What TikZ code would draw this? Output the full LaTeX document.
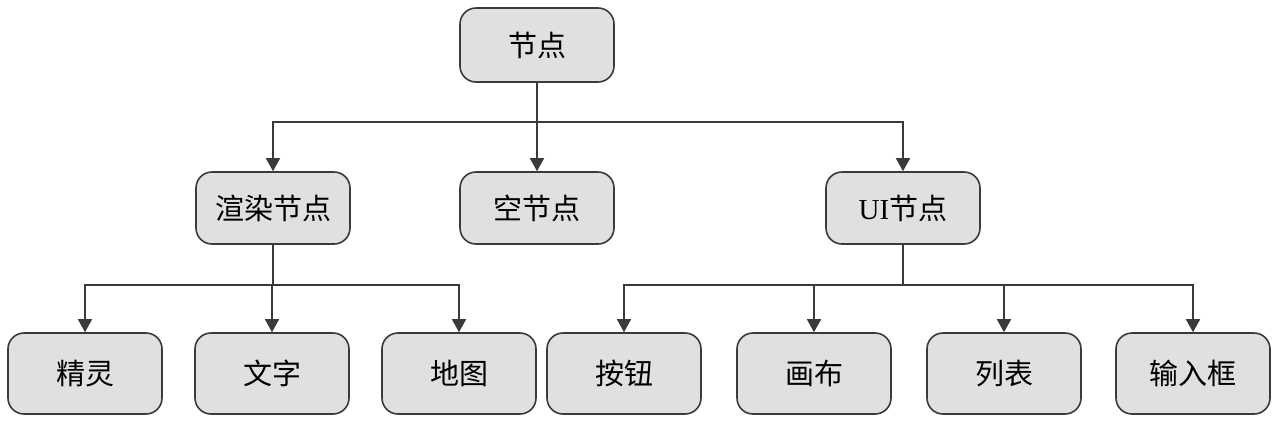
\documentclass[tikz,border=0pt]{standalone}
\usepackage{fontspec}
\setmainfont{Liberation Serif}
\newfontfamily\cjk{Noto Sans CJK SC}
\usetikzlibrary{arrows.meta}
\definecolor{boxfill}{HTML}{E0E0E0}
\definecolor{linec}{HTML}{3A3A3A}
\tikzset{
  box/.style={draw=linec, fill=boxfill, line width=1.6pt, rounded corners=16pt,
    minimum width=154pt, inner sep=0pt, font=\fontsize{29}{31}\selectfont},
  lvA/.style={box, minimum height=74pt},
  lvB/.style={box, minimum height=72pt},
  lvC/.style={box, minimum height=81pt},
  arr/.style={draw=linec, line width=1.6pt, -{Triangle[width=14pt,length=13pt]}}
}
\begin{document}
\begin{tikzpicture}[x=1pt,y=-1pt]
\useasboundingbox (0,0) rectangle (1280,424);
\node[lvA] (root) at (537,45) {\cjk 节点};
\node[lvB] (render) at (273,208) {\cjk 渲染节点};
\node[lvB] (empty) at (537,208) {\cjk 空节点};
\node[lvB] (ui) at (903,208) {UI\cjk 节点};
\node[lvC] (c1) at (85,373.5) {\cjk 精灵};
\node[lvC] (c2) at (272,373.5) {\cjk 文字};
\node[lvC] (c3) at (459,373.5) {\cjk 地图};
\node[lvC] (c4) at (624,373.5) {\cjk 按钮};
\node[lvC] (c5) at (814,373.5) {\cjk 画布};
\node[lvC] (c6) at (1004,373.5) {\cjk 列表};
\node[lvC] (c7) at (1193,373.5) {\cjk 输入框};
\coordinate (busA) at (0,122);
\coordinate (busB) at (0,285);
\foreach \t in {render,empty,ui}
  \draw[arr] (root.south) -- (root.south |- busA) -| (\t.north);
\foreach \t in {c1,c2,c3}
  \draw[arr] (render.south) -- (render.south |- busB) -| (\t.north);
\foreach \t in {c4,c5,c6,c7}
  \draw[arr] (ui.south) -- (ui.south |- busB) -| (\t.north);
\end{tikzpicture}
\end{document}
